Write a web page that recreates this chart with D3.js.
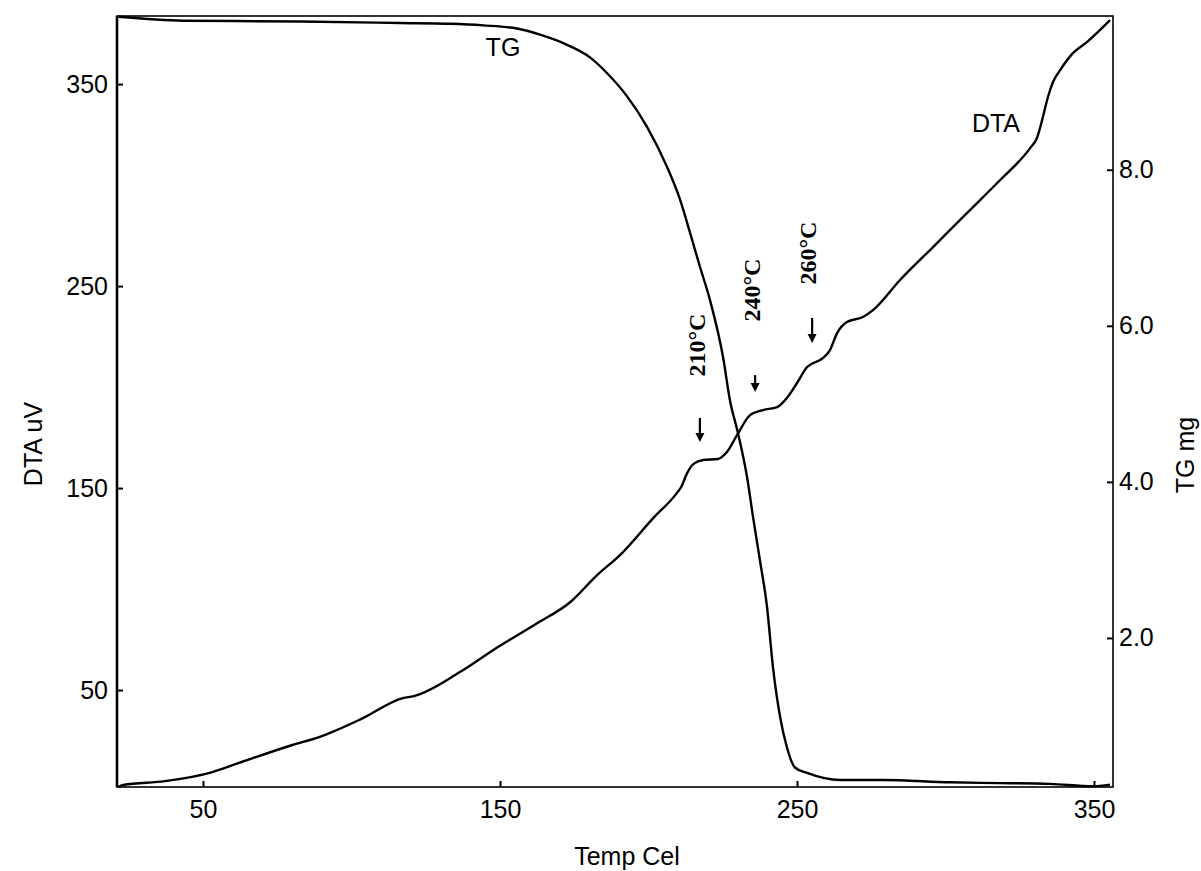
<!DOCTYPE html>
<html lang="en">
<head>
  <meta charset="UTF-8">
  <title>DTA / TG</title>
  <script src="https://d3js.org/d3.v7.min.js"></script>
  <style type="text/css">
    body { margin: 0; background: #fff; }
    .rotulo { font-family: "Liberation Sans", Arial, sans-serif; font-size: 25px; fill: #000; }
    .temp { font-family: "Liberation Serif", "Times New Roman", serif; font-size: 24px; font-weight: bold; fill: #000; }
  </style>
</head>
<body>
<svg id="grafico"></svg>

<script>
  // Dados (temperatura em °C)
  const temperaturaDTA = [21.4, 23.1, 37.2, 53.2, 62.1, 80.1, 89.1, 103.2, 117.3, 121.0, 136.5, 149.3, 162.1, 173.7, 182.7, 190.4, 201.9, 209.0, 211.0, 213.0, 215.2, 218.4, 223.4, 226.4, 229.8, 234.2, 238.6, 243.3, 246.6, 250.0, 253.4, 258.8, 261.1, 263.5, 266.8, 272.2, 275.6, 284.7, 295.8, 307.2, 318.4, 328.5, 330.8, 332.8, 334.5, 336.2, 338.6, 342.9, 347.6, 355.4];
  const valoresDTA = [2.0, 3.0, 4.9, 9.4, 13.9, 22.8, 26.7, 35.6, 46.0, 47.0, 58.9, 71.3, 82.7, 93.6, 106.9, 116.8, 135.6, 146.5, 150.5, 157.4, 162.0, 163.9, 164.4, 167.8, 176.2, 186.1, 188.6, 190.1, 194.6, 202.0, 209.9, 214.4, 218.3, 226.7, 232.2, 234.7, 238.1, 253.0, 269.3, 286.1, 302.5, 318.3, 323.3, 333.7, 343.6, 351.0, 356.9, 365.3, 370.8, 381.7];

  const temperaturaTG = [21.4, 43.3, 82.7, 116.3, 133.2, 144.3, 155.7, 163.5, 172.6, 180.3, 186.0, 192.8, 199.5, 206.2, 210.6, 214.0, 217.3, 220.7, 225.1, 227.4, 230.1, 233.2, 235.2, 237.5, 239.9, 241.9, 244.3, 246.6, 249.3, 253.4, 264.5, 279.0, 301.5, 318.4, 335.2, 349.7, 355.4];
  const valoresTG = [9.96, 9.91, 9.90, 9.88, 9.87, 9.85, 9.81, 9.73, 9.60, 9.44, 9.24, 8.94, 8.55, 8.04, 7.62, 7.19, 6.76, 6.33, 5.60, 5.05, 4.63, 4.06, 3.55, 3.00, 2.40, 1.63, 0.99, 0.60, 0.34, 0.27, 0.18, 0.18, 0.15, 0.14, 0.13, 0.10, 0.12];

  // Ticks dos eixos
  const ticksX = [50, 150, 250, 350];
  const ticksDTA = [50, 150, 250, 350];
  const ticksTG = [2.0, 4.0, 6.0, 8.0];

  // Picos marcados (texto, temperatura do rótulo, DTA do rótulo, temperatura da seta, DTA topo/base da seta)
  const picosTexto = ["210°C", "240°C", "260°C"];
  const picosTempRotulo = [216.3, 234.8, 253.4];
  const picosDTARotulo = [220.8, 248.0, 266.3];
  const setasTemp = [217.3, 235.9, 255.1];
  const setasTopo = [184.7, 205.9, 234.2];
  const setasBase = [172.8, 197.5, 221.8];

  // Dimensões
  const largura = 1201;
  const altura = 871;
  const margem = { topo: 16, direita: 88, inferior: 84, esquerda: 117 };

  const svg = d3.select("#grafico")
      .attr("width", largura)
      .attr("height", altura);

  // Escalas
  const escalaX = d3.scaleLinear()
      .domain([21.04, 356.4])
      .range([margem.esquerda, largura - margem.direita]);

  const escalaDTA = d3.scaleLinear()
      .domain([2, 383.7])
      .range([altura - margem.inferior, margem.topo]);

  const escalaTG = d3.scaleLinear()
      .domain([0.09, 9.97])
      .range([altura - margem.inferior, margem.topo]);

  // Moldura
  svg.append("rect")
      .attr("x", margem.esquerda)
      .attr("y", margem.topo)
      .attr("width", largura - margem.esquerda - margem.direita)
      .attr("height", altura - margem.topo - margem.inferior)
      .attr("fill", "none")
      .attr("stroke", "#000")
      .attr("stroke-width", 1.6);

  svg.append("line")
      .attr("x1", margem.esquerda).attr("x2", margem.esquerda)
      .attr("y1", margem.topo).attr("y2", altura - margem.inferior)
      .attr("stroke", "#000")
      .attr("stroke-width", 2.6);

  // Eixos
  const eixoX = d3.axisBottom(escalaX).tickValues(ticksX).tickFormat(d3.format("d"))
      .tickSizeInner(-6).tickSizeOuter(0).tickPadding(13);
  const eixoDTA = d3.axisLeft(escalaDTA).tickValues(ticksDTA).tickFormat(d3.format("d"))
      .tickSizeInner(-6).tickSizeOuter(0).tickPadding(9);
  const eixoTG = d3.axisRight(escalaTG).tickValues(ticksTG).tickFormat(d3.format(".1f"))
      .tickSizeInner(-6).tickSizeOuter(0).tickPadding(6);

  function estiloEixo(g) {
    g.select(".domain").remove();
    g.selectAll(".tick line").attr("stroke", "#000").attr("stroke-width", 2);
    g.selectAll(".tick text")
        .attr("class", "rotulo")
        .attr("font-size", null)
        .attr("font-family", null);
    g.attr("font-size", null).attr("font-family", null);
  }

  svg.append("g")
      .attr("transform", `translate(0, ${altura - margem.inferior})`)
      .call(eixoX)
      .call(estiloEixo);

  svg.append("g")
      .attr("transform", `translate(${margem.esquerda}, 0)`)
      .call(eixoDTA)
      .call(estiloEixo);

  svg.append("g")
      .attr("transform", `translate(${largura - margem.direita}, 0)`)
      .call(eixoTG)
      .call(estiloEixo);

  // Títulos dos eixos
  svg.append("text")
      .attr("class", "rotulo")
      .attr("x", 627)
      .attr("y", 865)
      .attr("text-anchor", "middle")
      .text("Temp Cel");

  svg.append("text")
      .attr("class", "rotulo")
      .attr("transform", "translate(42, 444) rotate(-90)")
      .attr("text-anchor", "middle")
      .text("DTA uV");

  svg.append("text")
      .attr("class", "rotulo")
      .attr("transform", "translate(1194, 455) rotate(-90)")
      .attr("text-anchor", "middle")
      .text("TG mg");

  // Curvas
  const dadosDTA = temperaturaDTA.map((t, i) => ({ t: t, v: valoresDTA[i] }));
  const dadosTG = temperaturaTG.map((t, i) => ({ t: t, v: valoresTG[i] }));

  const linhaDTA = d3.line()
      .x(d => escalaX(d.t))
      .y(d => escalaDTA(d.v))
      .curve(d3.curveMonotoneX);

  const linhaTG = d3.line()
      .x(d => escalaX(d.t))
      .y(d => escalaTG(d.v))
      .curve(d3.curveMonotoneX);

  svg.append("path")
      .datum(dadosDTA)
      .attr("d", linhaDTA)
      .attr("fill", "none")
      .attr("stroke", "#000")
      .attr("stroke-width", 2.4);

  svg.append("path")
      .datum(dadosTG)
      .attr("d", linhaTG)
      .attr("fill", "none")
      .attr("stroke", "#000")
      .attr("stroke-width", 2.4);

  // Rótulos das curvas
  svg.append("text")
      .attr("class", "rotulo")
      .attr("x", escalaX(151))
      .attr("y", escalaDTA(368.3))
      .attr("dy", "0.35em")
      .attr("text-anchor", "middle")
      .text("TG");

  svg.append("text")
      .attr("class", "rotulo")
      .attr("x", escalaX(317))
      .attr("y", escalaDTA(330.7))
      .attr("dy", "0.35em")
      .attr("text-anchor", "middle")
      .text("DTA");

  // Temperaturas dos picos (texto vertical)
  picosTexto.forEach(function(txt, i) {
    const x = escalaX(picosTempRotulo[i]);
    const y = escalaDTA(picosDTARotulo[i]);
    svg.append("text")
        .attr("class", "temp")
        .attr("transform", `translate(${x}, ${y}) rotate(-90)`)
        .attr("dy", "0.35em")
        .attr("text-anchor", "middle")
        .text(txt);

    // Setas
    const xs = escalaX(setasTemp[i]);
    const y0 = escalaDTA(setasTopo[i]);
    const y1 = escalaDTA(setasBase[i]);
    svg.append("line")
        .attr("x1", xs).attr("x2", xs)
        .attr("y1", y0).attr("y2", y1 - 6)
        .attr("stroke", "#000")
        .attr("stroke-width", 2.2);
    svg.append("path")
        .attr("d", `M${xs - 4.5},${y1 - 9} L${xs + 4.5},${y1 - 9} L${xs},${y1} Z`)
        .attr("fill", "#000");
  });
</script>
</body>
</html>
